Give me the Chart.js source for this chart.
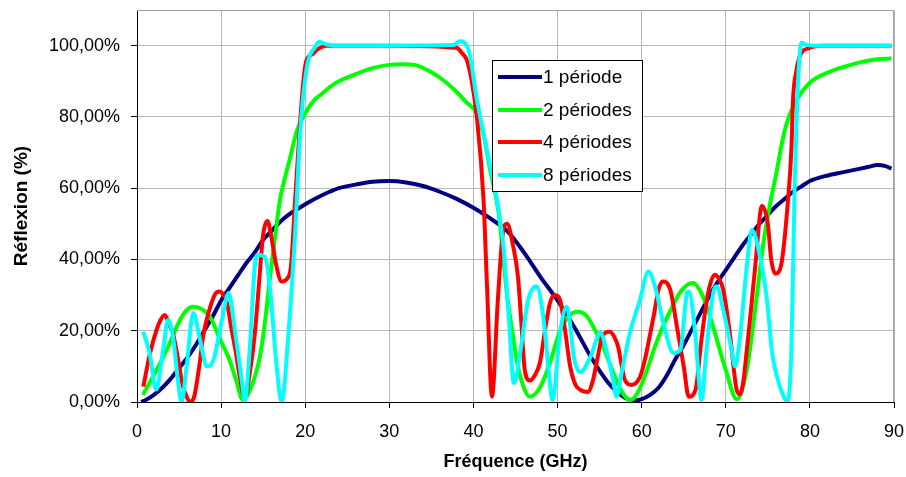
<!DOCTYPE html>
<html>
<head>
<meta charset="utf-8">
<script src="https://cdn.jsdelivr.net/npm/chart.js@4.4.1/dist/chart.umd.min.js"></script>
<style>
  html, body { margin: 0; padding: 0; background: #fff; }
  #wrap { width: 906px; height: 477px; position: relative; }
</style>
</head>
<body>
<div id="wrap"><canvas id="reflexion"></canvas></div>
<script>
// Réflexion vs fréquence (GHz, %)
const seriesLabels = ["1 période", "2 périodes", "4 périodes", "8 périodes"];
const seriesColors = ["#000080", "#00ff00", "#ff0000", "#00ffff"];
const xTicks = [0, 10, 20, 30, 40, 50, 60, 70, 80, 90];
const yTicks = [0, 20, 40, 60, 80, 100];

const periode1 = [
    [0.5, 0], [1, 0.5], [2, 2], [3, 4], [4, 6.5], [5, 9.5], [6, 12.5], [7, 16], [8, 20], [9, 24],
    [10, 28.5], [11, 32], [12, 35.5], [13, 39], [14, 42], [15, 45.5], [16, 48], [17, 50.5], [18, 52.5],
    [19, 54], [20, 55.5], [22, 58], [24, 60], [26, 61], [28, 61.8], [30, 62], [32, 61.6], [34, 60.6],
    [36, 59], [38, 57], [40, 54.5], [42, 51.5], [44, 48], [46, 42], [48, 35], [50, 28.5], [52, 21],
    [54, 12.5], [56, 5.5], [57, 3], [58, 1.2], [59, 0.4], [60, 0.8], [61, 2], [62, 4], [63, 7.5],
    [64, 12], [65, 16], [66, 20.5], [67, 25], [68, 29.5], [69, 33.5], [70, 37], [71, 40.5], [72, 44],
    [73, 47], [74, 50], [75, 52.5], [76, 55], [77, 57], [78, 59], [79, 60.5], [80, 62], [82, 63.5],
    [84, 64.5], [86, 65.5], [87, 66], [88, 66.5], [89, 66.2], [89.7, 65.5]
];

const periodes2 = [
    [0.7, 2], [1.4, 5], [2.1, 8], [3, 12], [3.7, 15.5], [4.9, 22], [5.8, 25.5], [6.7, 26.7], [7.5, 26.3],
    [8.3, 25], [9, 22.5], [9.6, 19], [10.3, 15.5], [11, 11.8], [11.8, 6], [12.6, 0.5], [13.6, 4.3],
    [14.6, 12.6], [15.2, 22], [15.8, 34.8], [16.4, 46], [17, 56.7], [17.6, 63], [18.2, 68.5], [19, 76],
    [20, 81], [21, 84.5], [22, 86.5], [23, 88.5], [24, 90], [26, 92], [28, 93.7], [30, 94.6], [31.5, 94.8],
    [33, 94.6], [35, 92.5], [36.8, 89.6], [38, 87], [39.2, 84], [40.4, 81], [41.2, 75], [42, 65], [43, 53],
    [44, 30], [44.6, 20], [45.2, 11], [46, 4], [46.7, 1.5], [47.9, 4], [49.1, 11], [50.3, 20], [51.3, 24],
    [52.4, 25.3], [53.5, 24], [54.5, 20], [55.5, 15], [56.5, 9], [57.5, 3.5], [58.6, 0.5], [59.5, 2.5],
    [60.5, 8], [61.5, 15], [62.5, 21], [63.5, 26], [64.5, 30.5], [65.5, 33], [66.1, 33.4], [67, 31],
    [68, 25], [69, 17], [70, 9], [71.3, 0.8], [72.5, 9], [73.7, 30], [74.5, 45], [75.3, 56], [76, 64],
    [76.8, 74], [77.5, 80], [78.5, 85], [80, 89.6], [82.4, 92.7], [84, 94], [86.3, 95.5], [88, 96.2],
    [89.7, 96.4]
];

const periodes4 = [
    [0.75, 4.3], [1.55, 13.7], [2.3, 20], [2.8, 23], [3.3, 24.4], [3.8, 22], [4.3, 19], [4.9, 11.8],
    [5.4, 5], [5.9, 1.5], [6.3, 0], [6.8, 1.5], [7.4, 10], [7.9, 19], [8.5, 25], [9.3, 30.3], [9.8, 31],
    [10.3, 30], [10.7, 27.8], [11.2, 21], [11.7, 14.6], [12.3, 6], [12.8, 1], [13.4, 8], [14, 19],
    [14.5, 33], [15, 47], [15.5, 50.8], [16, 46], [16.5, 39], [17.2, 33.8], [17.8, 34.5], [18.3, 38],
    [18.8, 56.7], [19.3, 75], [19.7, 88], [20.1, 95.5], [20.8, 97.5], [21.5, 99], [22.5, 100], [30, 100],
    [38, 99.4], [38.6, 98], [39.2, 96], [39.8, 90], [40.4, 80], [41.2, 56.7], [41.6, 33.4], [42.2, 1.5],
    [42.9, 28.6], [43.5, 47.5], [44, 50], [44.7, 44], [45.3, 35], [45.7, 22], [46.1, 9], [46.7, 6],
    [47.3, 7.5], [47.9, 11], [48.5, 20], [49.1, 27.8], [49.7, 30], [50.3, 28.6], [50.9, 20], [51.5, 10],
    [52.1, 5], [52.7, 3.4], [53.6, 2.8], [54.2, 6], [54.7, 11.8], [55.4, 18.8], [56.2, 19.7], [56.8, 18],
    [57.2, 15.5], [58, 6.2], [58.8, 4.8], [59.8, 7], [60.4, 12], [61, 19], [61.5, 25], [62, 31.5],
    [62.5, 33.8], [63.4, 31.5], [64.2, 21], [65, 10], [65.6, 1.5], [66.4, 3.4], [67.1, 17.4], [67.9, 30.6],
    [68.7, 35.7], [69.2, 34.5], [69.7, 31.5], [70.5, 19], [71.3, 3.4], [71.7, 2.2], [72.1, 6], [72.5, 14.6],
    [73, 26], [73.5, 38], [74.3, 55], [75, 50], [75.4, 40], [75.9, 36], [76.3, 36.5], [76.7, 40],
    [77.4, 56.7], [77.8, 70.8], [78, 85], [78.4, 93], [78.8, 97], [80, 99.4], [81.6, 100], [89.7, 100]
];

const periodes8 = [
    [0.75, 19.7], [1.5, 13.7], [2.3, 3.5], [3.1, 14.6], [3.7, 23], [4.3, 18], [4.9, 5.3], [5.3, 0],
    [5.9, 10], [6.7, 25], [7.5, 17.4], [8.3, 10], [9.1, 11.8], [10.1, 23], [10.9, 30.6], [11.7, 19],
    [12.5, 5.3], [12.8, 0], [13.4, 14.6], [14, 38], [14.4, 41.3], [15.2, 40.7], [15.8, 32.3], [16.6, 10],
    [17.2, 0], [18, 19], [18.8, 47.5], [19.4, 75.5], [20.2, 94], [21.2, 99.7], [21.6, 101], [22.6, 100.3],
    [23.5, 100], [37.6, 100.2], [38.4, 101.2], [39.4, 99], [40.4, 85], [41.6, 70.8], [42.8, 56.7],
    [43.6, 42.7], [44.2, 24], [44.8, 5.3], [45.6, 14.6], [46.5, 28.6], [47.5, 32.5], [48.3, 24], [48.9, 10],
    [49.4, 0.5], [50.3, 19.4], [51.1, 26.7], [52, 11.8], [52.7, 8.4], [53.9, 12.6], [55.1, 19.4],
    [55.8, 14.6], [56.6, 6.2], [57, 1.5], [57.6, 8], [58.6, 19.4], [59.8, 28.6], [60.8, 36.6], [61.6, 32.3],
    [62.6, 22], [63.8, 13.7], [64.6, 14.6], [65.4, 30.6], [65.6, 31], [66.4, 18.4], [66.9, 3.4], [67.1, 0.5],
    [67.7, 14.6], [68.5, 30.6], [68.9, 32.5], [69.7, 25.8], [70.7, 14.6], [71.1, 10], [71.7, 18.4],
    [72.5, 38], [73.1, 48.3], [73.9, 42.7], [74.9, 28.6], [75.5, 14], [76.1, 7], [76.8, 2], [77.3, 0],
    [77.8, 14.6], [78.2, 61.5], [78.5, 85], [79, 100.8], [79.6, 100.2], [80.5, 100], [89.7, 100]
];

const allSeries = [periode1, periodes2, periodes4, periodes8];
const FONT = '"Liberation Sans", Arial, sans-serif';

const toXY = arr => arr.map(([x, y]) => ({ x, y }));

// grey frame on top/right of plot area (Excel style)
const plotFrame = {
    id: "plotFrame",
    beforeDatasetsDraw(chart) {
        const { ctx, chartArea: a } = chart;
        ctx.save();
        ctx.strokeStyle = "#a0a0a0";
        ctx.lineWidth = 1;
        ctx.beginPath();
        ctx.moveTo(a.left, a.top + 0.5);
        ctx.lineTo(a.right - 0.5, a.top + 0.5);
        ctx.lineTo(a.right - 0.5, a.bottom);
        ctx.stroke();
        ctx.restore();
    }
};

// boxed legend inside the plot, like the original
const boxLegend = {
    id: "boxLegend",
    afterDraw(chart) {
        const { ctx } = chart;
        const box = { x: 492, y: 60, w: 150, h: 131 };
        ctx.save();
        ctx.fillStyle = "#fff";
        ctx.fillRect(box.x, box.y, box.w, box.h);
        ctx.strokeStyle = "#000";
        ctx.lineWidth = 1;
        ctx.strokeRect(box.x + 0.5, box.y + 0.5, box.w, box.h);
        ctx.font = "19px " + FONT;
        ctx.textBaseline = "middle";
        ctx.textAlign = "left";
        const rows = [77, 110, 142, 175];
        chart.data.datasets.forEach((ds, i) => {
            const y = rows[i];
            ctx.strokeStyle = ds.borderColor;
            ctx.lineWidth = 4;
            ctx.beginPath();
            ctx.moveTo(498, y);
            ctx.lineTo(542, y);
            ctx.stroke();
            ctx.fillStyle = "#000";
            ctx.fillText(ds.label, 543, y + 1);
        });
        ctx.restore();
    }
};

new Chart(document.getElementById("reflexion"), {
    type: "line",
    data: {
        datasets: allSeries.map((s, i) => ({
            label: seriesLabels[i],
            data: toXY(s),
            borderColor: seriesColors[i],
            backgroundColor: seriesColors[i],
            borderWidth: 4,
            pointRadius: 0,
            fill: false,
            cubicInterpolationMode: "monotone",
            order: 4 - i, // last series drawn on top
        }))
    },
    options: {
        responsive: true,
        maintainAspectRatio: false,
        animation: false,
        layout: { padding: { left: 0, right: 0, top: 0, bottom: 0 } },
        plugins: {
            legend: { display: false },
            tooltip: { enabled: false }
        },
        scales: {
            x: {
                type: "linear",
                min: 0,
                max: 90,
                afterFit(scale) {
                    scale.height = 75;
                    scale.paddingRight = 12;
                },
                afterBuildTicks(scale) { scale.ticks = xTicks.map(v => ({ value: v })); },
                grid: { color: "#b8b8b8", tickColor: "#000", tickLength: 6 },
                border: { color: "#000", width: 1 },
                ticks: {
                    color: "#000",
                    padding: 13,
                    maxRotation: 0,
                    font: { family: FONT, size: 18 }
                },
                title: {
                    display: true,
                    text: "Fréquence (GHz)",
                    color: "#000",
                    padding: { top: 0, bottom: 4 },
                    font: { family: FONT, size: 18, weight: "bold" }
                }
            },
            y: {
                min: 0,
                max: 110,
                afterFit(scale) {
                    scale.width = 137;
                    scale.paddingTop = 10;
                },
                afterBuildTicks(scale) { scale.ticks = yTicks.map(v => ({ value: v })); },
                grid: { color: "#b8b8b8", tickColor: "#000", tickLength: 6 },
                border: { color: "#000", width: 1 },
                ticks: {
                    color: "#000",
                    padding: 11,
                    font: { family: FONT, size: 18 },
                    callback: v => v.toFixed(2).replace(".", ",") + "%"
                },
                title: {
                    display: true,
                    text: "Réflexion (%)",
                    color: "#000",
                    padding: { top: 10, bottom: 0 },
                    font: { family: FONT, size: 19, weight: "bold" }
                }
            }
        }
    },
    plugins: [plotFrame, boxLegend]
});
</script>
</body>
</html>
